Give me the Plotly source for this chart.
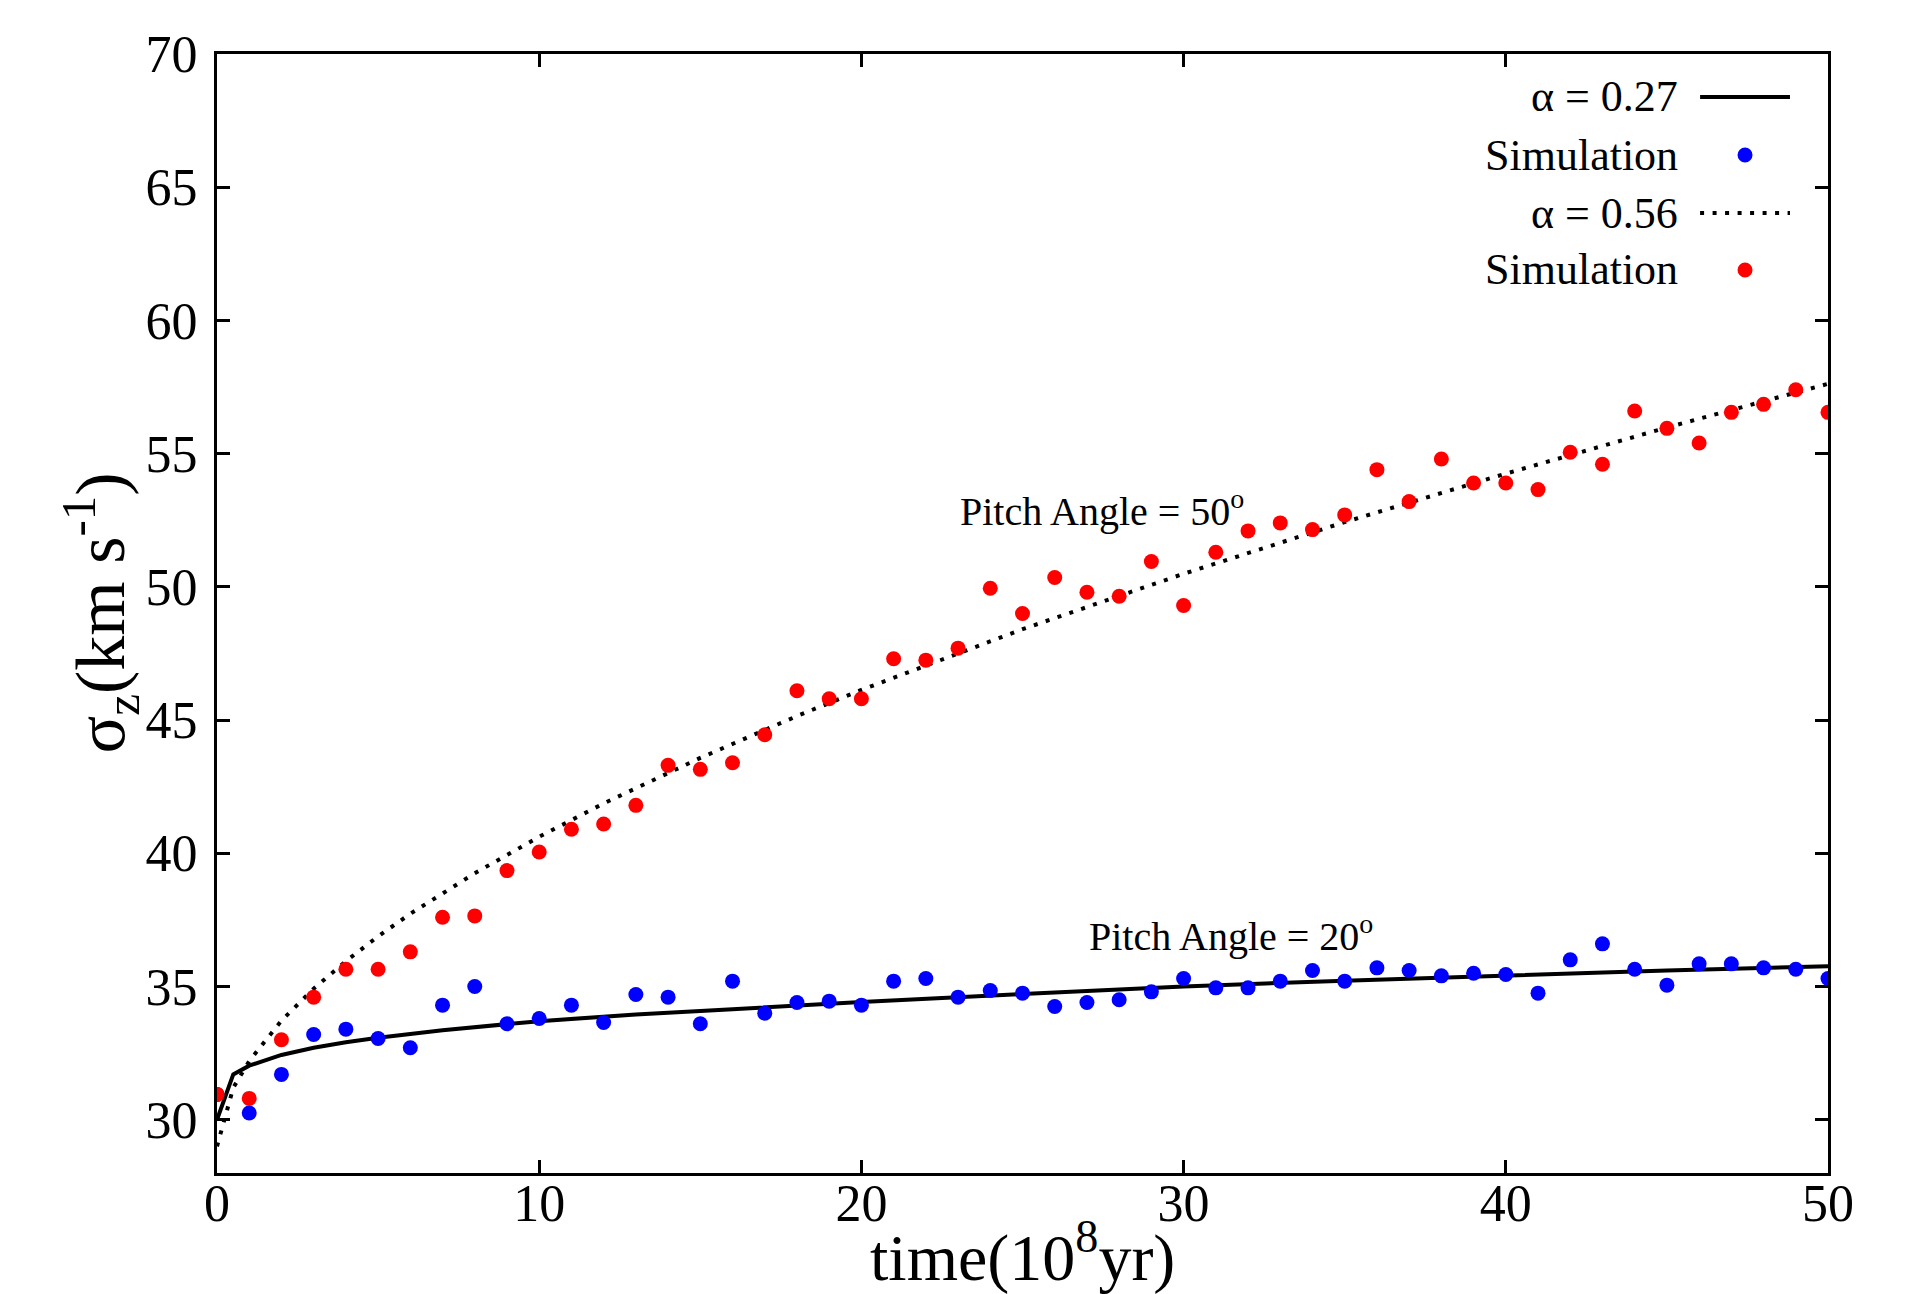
import plotly.graph_objects as go

# Simulation snapshots: time in units of 10^8 yr
t_sim = list(range(0, 51))

# sigma_z (km/s), pitch angle 20 deg
sigma_20 = [30.95, 30.25, 31.70, 33.20, 33.40, 33.05, 32.70, 34.30, 35.00, 33.60,
            33.80, 34.30, 33.65, 34.70, 34.60, 33.60, 35.20, 34.00, 34.40, 34.45,
            34.30, 35.20, 35.30, 34.60, 34.85, 34.75, 34.25, 34.40, 34.50, 34.80,
            35.30, 34.95, 34.95, 35.20, 35.60, 35.20, 35.70, 35.60, 35.40, 35.50,
            35.45, 34.75, 36.00, 36.60, 35.65, 35.05, 35.85, 35.85, 35.70, 35.65,
            35.30]

# sigma_z (km/s), pitch angle 50 deg
sigma_50 = [30.95, 30.80, 33.00, 34.60, 35.65, 35.65, 36.30, 37.60, 37.65, 39.35,
            40.05, 40.90, 41.10, 41.80, 43.30, 43.15, 43.40, 44.45, 46.10, 45.80,
            45.80, 47.30, 47.25, 47.70, 49.95, 49.00, 50.35, 49.80, 49.65, 50.95,
            49.30, 51.30, 52.10, 52.40, 52.15, 52.70, 54.40, 53.20, 54.80, 53.90,
            53.90, 53.65, 55.05, 54.60, 56.60, 55.95, 55.40, 56.55, 56.85, 57.40,
            56.55]

# Heating-law curves
t_fit_a = [0, 0.505, 1, 2, 3, 4, 5, 7, 10, 13, 16, 20, 25, 30, 35, 40, 45, 50]
fit_027 = [30.0, 31.70, 32.03, 32.43, 32.70, 32.91, 33.08, 33.36, 33.70, 33.95,
           34.15, 34.42, 34.72, 35.00, 35.22, 35.42, 35.60, 35.76]

t_fit_b = [0, 0.505, 1, 2, 3, 4, 5, 6, 8, 10, 12, 15, 18, 20, 25, 30, 35, 40, 45, 50]
fit_056 = [29.0, 31.20, 32.20, 33.72, 34.92, 35.95, 36.88, 37.73, 39.25, 40.62,
           41.87, 43.58, 45.15, 46.13, 48.41, 50.49, 52.43, 54.25, 55.98, 57.62]

x_ticks = [0, 10, 20, 30, 40, 50]
y_ticks = [30, 35, 40, 45, 50, 55, 60, 65, 70]

legend_labels = ["α = 0.27", "Simulation", "α = 0.56", "Simulation"]

FONT = "Liberation Serif, Times New Roman, serif"
BLUE = "#0000ff"
RED = "#ff0000"
DOT_DASH = "4px,8.5px"

fig = go.Figure()

fig.add_trace(go.Scatter(x=t_fit_a, y=fit_027, mode="lines", name=legend_labels[0],
                         line=dict(color="black", width=4), showlegend=False))
fig.add_trace(go.Scatter(x=t_sim, y=sigma_20, mode="markers", name=legend_labels[1],
                         marker=dict(color=BLUE, size=15), showlegend=False))
fig.add_trace(go.Scatter(x=t_fit_b, y=fit_056, mode="lines", name=legend_labels[2],
                         line=dict(color="black", width=4, dash=DOT_DASH), showlegend=False))
fig.add_trace(go.Scatter(x=t_sim, y=sigma_50, mode="markers", name=legend_labels[3],
                         marker=dict(color=RED, size=15), showlegend=False))

axis_common = dict(
    showline=True, linecolor="black", linewidth=3, mirror="ticks",
    ticks="inside", ticklen=13, tickwidth=3, tickcolor="black",
    showgrid=False, zeroline=False,
    tickfont=dict(family=FONT, size=52, color="black"),
)

fig.update_xaxes(range=[0, 50], tickvals=x_ticks, ticklabelstandoff=-17, **axis_common)
fig.update_yaxes(range=[28, 70], tickvals=y_ticks, ticklabelstandoff=6, **axis_common)

annotations = [
    # axis titles
    dict(text="time(10<sup>8</sup>yr)", xref="paper", yref="paper", x=0.5, y=-0.032,
         xanchor="center", yanchor="top", showarrow=False,
         font=dict(family=FONT, size=66, color="black")),
    dict(text="σ<sub>z</sub>(km s<sup>-1</sup>)", xref="paper", yref="paper",
         x=-0.0726, y=0.5, xanchor="center", yanchor="middle", textangle=-90,
         showarrow=False, font=dict(family=FONT, size=70, color="black")),
    # curve labels
    dict(text="Pitch Angle = 50<sup>o</sup>", x=23.0, y=52.95, xanchor="left",
         yanchor="middle", showarrow=False, font=dict(family=FONT, size=40, color="black")),
    dict(text="Pitch Angle = 20<sup>o</sup>", x=27.0, y=37.0, xanchor="left",
         yanchor="middle", showarrow=False, font=dict(family=FONT, size=40, color="black")),
]

# key: text right-justified, sample to the right
key_rows = [0.9616, 0.9097, 0.8579, 0.8070]
key_text_x = 0.908
for label, yy in zip(legend_labels, key_rows):
    annotations.append(dict(text=label, xref="paper", yref="paper", x=key_text_x, y=yy,
                            xanchor="right", yanchor="middle", showarrow=False,
                            font=dict(family=FONT, size=44, color="black")))

shapes = [
    dict(type="line", xref="paper", yref="paper", x0=0.9206, x1=0.9764,
         y0=key_rows[0], y1=key_rows[0], line=dict(color="black", width=4)),
    dict(type="line", xref="paper", yref="paper", x0=0.9206, x1=0.9764,
         y0=key_rows[2], y1=key_rows[2], line=dict(color="black", width=4, dash=DOT_DASH)),
]
for yy, col in ((key_rows[1], BLUE), (key_rows[3], RED)):
    shapes.append(dict(type="circle", xref="paper", yref="paper",
                       xsizemode="pixel", ysizemode="pixel",
                       xanchor=0.9485, yanchor=yy, x0=-7.5, x1=7.5, y0=-7.5, y1=7.5,
                       fillcolor=col, line=dict(width=0)))

fig.update_layout(
    width=1932, height=1294,
    margin=dict(l=217, r=104, t=54, b=121),
    paper_bgcolor="white", plot_bgcolor="white",
    annotations=annotations, shapes=shapes,
    font=dict(family=FONT, color="black"),
)

fig.write_html("out.html")
